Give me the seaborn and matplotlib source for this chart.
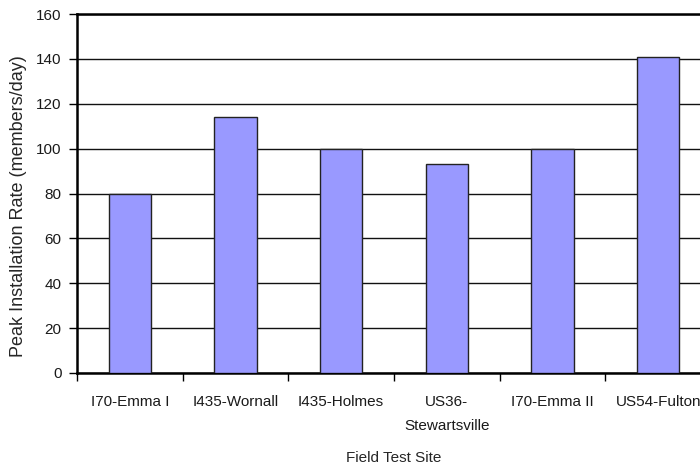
import matplotlib
matplotlib.use("Agg")
import matplotlib.pyplot as plt
import seaborn as sns
import pandas as pd
import numpy as np

# data
sites = ["I70-Emma I", "I435-Wornall", "I435-Holmes", "US36-\nStewartsville",
         "I70-Emma II", "US54-Fulton"]
rates = [80, 114, 100, 93, 100, 141]

df = pd.DataFrame({"site": sites, "rate": rates})

sns.set_style("white")
plt.rcParams["font.family"] = ["Liberation Sans", "DejaVu Sans"]
plt.rcParams["font.size"] = 11
plt.rcParams["text.color"] = "#1a1a1a"
plt.rcParams["xtick.color"] = "#1a1a1a"
plt.rcParams["ytick.color"] = "#1a1a1a"

fig = plt.figure(figsize=(7, 4.66), dpi=100)
# plot area runs past the right edge, as in the reference
ax = fig.add_axes([77 / 700, 93 / 466, 634 / 700, 359 / 466])

sns.barplot(data=df, x="site", y="rate", color="#9999FF", saturation=1,
            width=0.4, edgecolor="#222222", linewidth=1, ax=ax, zorder=3)

ax.set_ylim(0, 160)
ax.set_xlim(-0.5, len(sites) - 0.5)
ax.set_yticks(np.arange(0, 161, 20))
ax.yaxis.grid(True, color="#111111", linewidth=1)
ax.set_axisbelow(True)

# tick marks between categories, labels centred under bars
ax.set_xticks(np.arange(len(sites)))
ax.set_xticklabels(sites, linespacing=1.9)
ax.set_xticks(np.arange(-0.5, len(sites), 1), minor=True)
ax.tick_params(axis="x", which="major", length=0, pad=16, labelsize=11)
ax.tick_params(axis="x", which="minor", length=6, width=1, direction="out",
               color="black", bottom=True)
ax.tick_params(axis="y", length=6, width=1, direction="out", color="black",
               left=True, pad=5, labelsize=11)

for side in ["left", "bottom", "top", "right"]:
    ax.spines[side].set_color("black")
    ax.spines[side].set_linewidth(1.8)

ax.set_xlabel("Field Test Site", fontsize=11, labelpad=13)
ax.set_ylabel("Peak Installation Rate (members/day)", fontsize=13)
# label sits a little below the middle of the axis in the reference
ax.yaxis.set_label_coords(-50 / 634, (466 - 206 - 93) / 359)

fig.savefig("out.png", dpi=100)
